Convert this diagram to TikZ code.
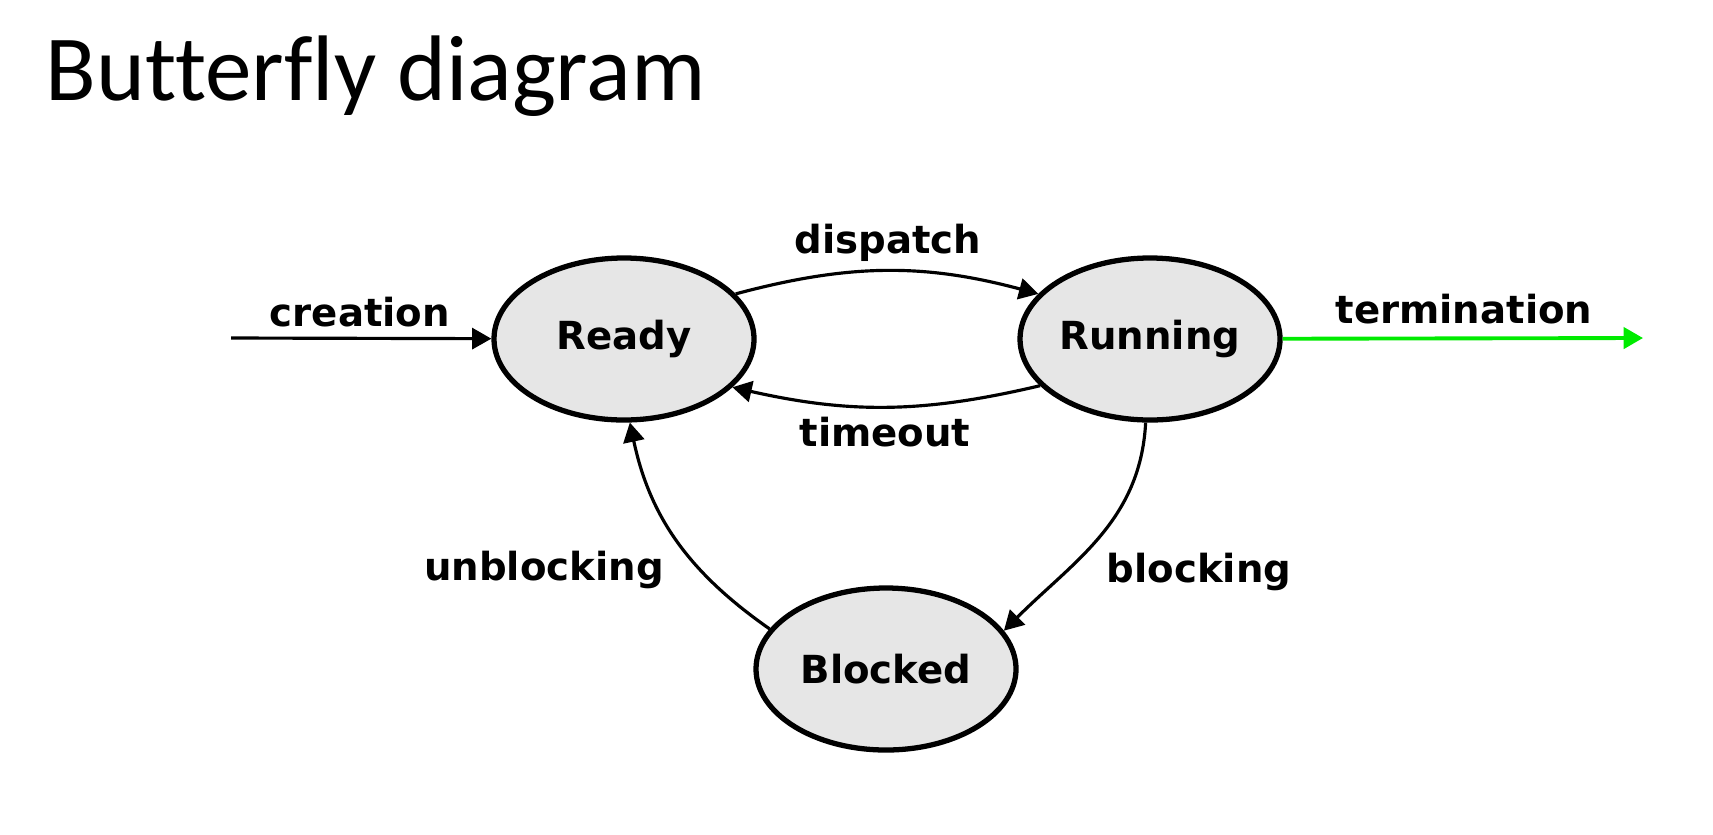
\documentclass[tikz,border=0pt]{standalone}
\usepackage{fontspec}
\setmainfont{Carlito}[Ligatures=NoCommon]
\newfontfamily\statefont{DejaVu Sans}
\definecolor{stategray}{RGB}{230, 230, 230}
\definecolor{termgreen}{RGB}{0, 235, 0}
\usepackage{tikz}
\usetikzlibrary{shapes.geometric, arrows.meta, positioning}

\begin{document}
\begin{tikzpicture}[
    state/.style={draw, ellipse, fill=stategray, line width=1.5pt, minimum width=2.6cm, minimum height=1.62cm, inner sep=0pt, font=\statefont\bfseries\fontsize{11}{13}\selectfont},
    trans/.style={line width=0.9pt, -{Triangle[length=5.5pt, width=6pt]}},
    lbl/.style={anchor=base, inner sep=0pt, font=\statefont\bfseries\fontsize{11}{13}\selectfont}
  ]
  \useasboundingbox (0, 0) rectangle (17.13, -8.34);

  % Title
  \node[anchor=base west, inner sep=0pt, font=\fontsize{26.5}{30}\selectfont] (title) at (0.45, -1.00) {Butterfly diagram};

  % States
  \node[state] (ready) at (6.24, -3.39) {Ready};
  \node[state] (running) at (11.50, -3.39) {Running};
  \node[state] (blocked) at (8.86, -6.69) {Blocked};

  % Loose ends
  \coordinate (start) at (2.31, -3.38);
  \coordinate (finish) at (16.43, -3.38);

  % Transitions
  \draw[trans] (start) -- (ready);
  \draw[trans, termgreen, line width=1.1pt] (running) -- (finish);
  \draw[trans] (ready.22) to[bend left=15] (running.158);
  \draw[trans] (running.203) to[bend left=13] (ready.336);
  \draw[trans] (running.267) to[out=-93, in=45] (blocked.18);
  \draw[trans] (blocked.161) to[out=145, in=-78] (ready.274);

  % Labels
  \node[lbl] (creation) at (3.60, -3.26) {creation};
  \node[lbl] (dispatch) at (8.88, -2.53) {dispatch};
  \node[lbl] (timeout) at (8.85, -4.46) {timeout};
  \node[lbl] (termination) at (14.64, -3.23) {termination};
  \node[lbl] (unblocking) at (5.44, -5.80) {unblocking};
  \node[lbl] (blocking) at (11.99, -5.82) {blocking};
\end{tikzpicture}
\end{document}
